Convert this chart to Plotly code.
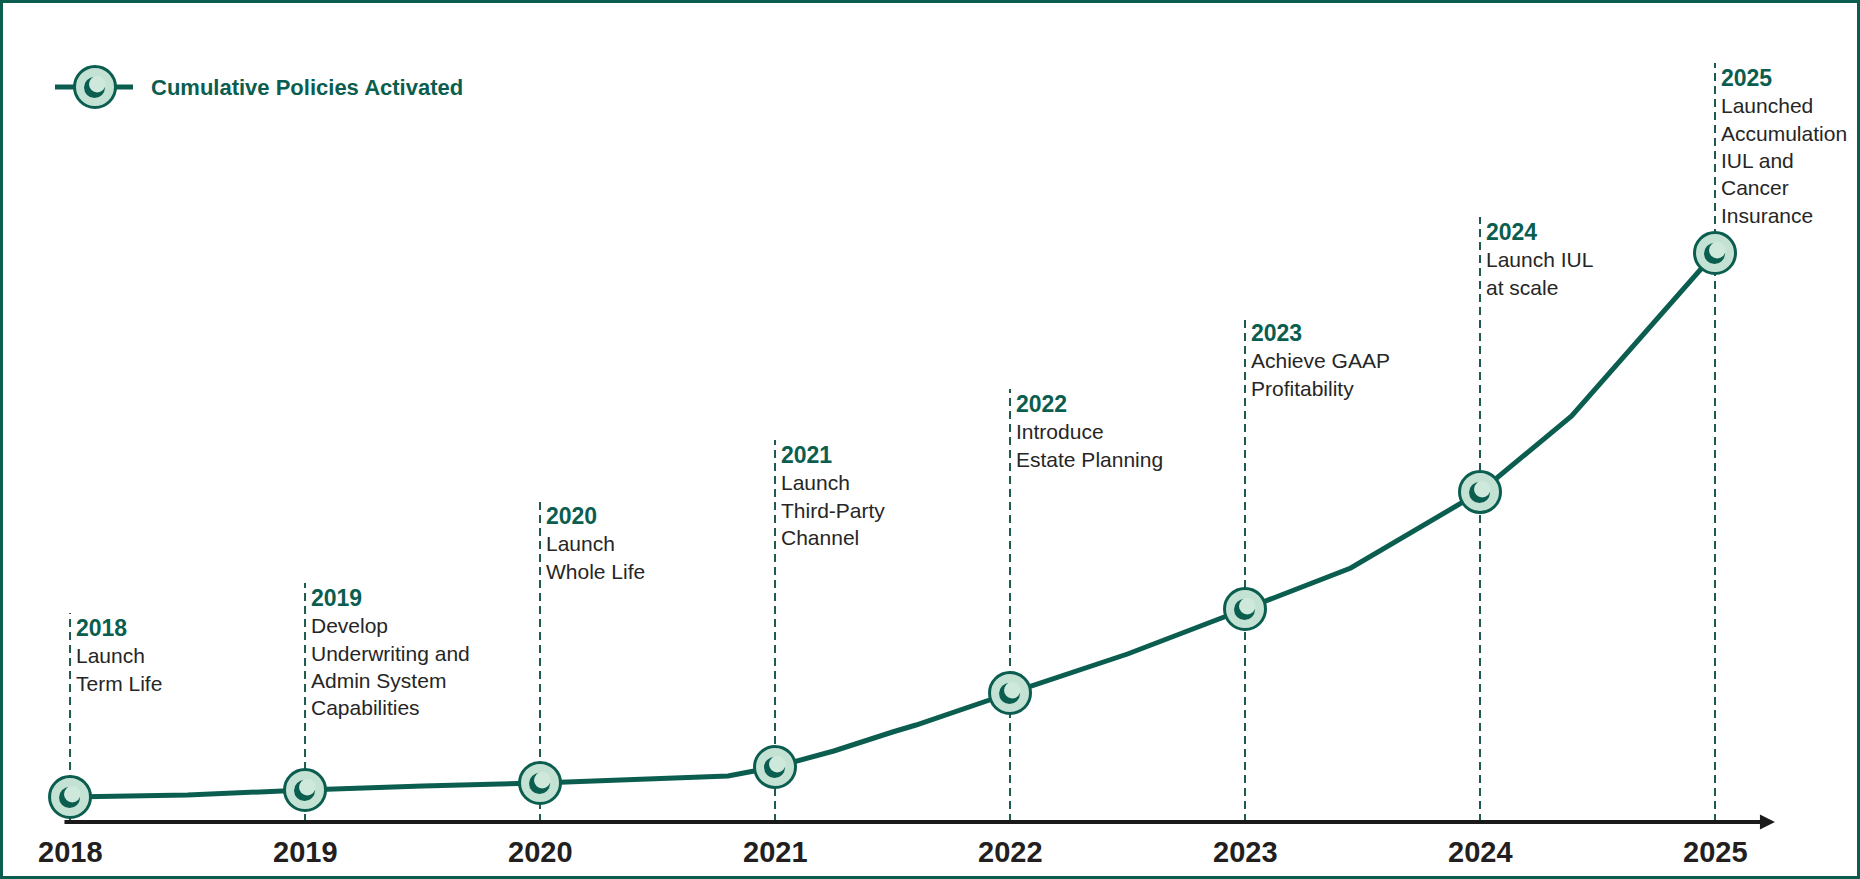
import plotly.graph_objects as go

# ---------------- data ----------------
years = [2018, 2019, 2020, 2021, 2022, 2023, 2024, 2025]
policies = [25, 32, 39, 55, 129, 213, 330, 569]  # cumulative policies (relative index)

path_years = [2018, 2018.5, 2019, 2019.25, 2019.5, 2020, 2020.5, 2020.8, 2021, 2021.25,
              2021.5, 2021.6, 2022, 2022.5, 2023, 2023.45, 2024, 2024.39, 2025]
path_policies = [25, 27, 32, 34.5, 36, 39, 43, 46, 55, 71,
                 90, 97, 129, 168, 213, 254, 330, 406, 569]

tick_labels = ["2018", "2019", "2020", "2021", "2022", "2023", "2024", "2025"]
milestone_years = ["2018", "2019", "2020", "2021", "2022", "2023", "2024", "2025"]
milestone_texts = [
    "Launch<br>Term Life",
    "Develop<br>Underwriting and<br>Admin System<br>Capabilities",
    "Launch<br>Whole Life",
    "Launch<br>Third-Party<br>Channel",
    "Introduce<br>Estate Planning",
    "Achieve GAAP<br>Profitability",
    "Launch IUL<br>at scale",
    "Launched<br>Accumulation<br>IUL and<br>Cancer<br>Insurance",
]
legend_label = "Cumulative Policies Activated"

# ---------------- layout / style ----------------
W, H = 1860, 879
GREEN = "#0b5e4f"
MINT = "#c4e2d4"
INNER = "#cfe8dc"
DASH = "#1f5a50"
TEXT = "#262626"
FONT = "Liberation Sans, Arial, Helvetica, sans-serif"

label_tops = [209, 239, 321, 382, 433, 504, 605, 759]  # top of dashed guide lines (y units)
x_range = [2017.702, 2025.617]
y_range = [-57, 822]
axis_start, axis_end = 2017.97, 2025.255

def px(xp):
    return xp / W

def py(yp):
    return 1 - yp / H

fig = go.Figure()

fig.add_trace(go.Scatter(
    x=path_years, y=path_policies, mode="lines",
    line=dict(color=GREEN, width=5), hoverinfo="skip", showlegend=False,
))
fig.add_trace(go.Scatter(
    x=years, y=policies, mode="markers", name=legend_label,
    marker=dict(size=41, color=MINT, line=dict(color=GREEN, width=3)),
    showlegend=False,
))

shapes = []
annotations = []

# dashed guides
for yr, top in zip(years, label_tops):
    shapes.append(dict(type="line", xref="x", yref="y", x0=yr, x1=yr, y0=0, y1=top,
                       line=dict(color=DASH, width=2, dash="8px,5px"), layer="below"))

# milestone labels
for yr, top, ylab, txt in zip(years, label_tops, milestone_years, milestone_texts):
    annotations.append(dict(
        x=yr, y=top, xref="x", yref="y", xanchor="left", yanchor="top",
        xshift=4, yshift=0, showarrow=False, align="left",
        text=f"<b><span style='color:{GREEN};font-size:23px'>{ylab}</span></b><br>{txt}",
        font=dict(family=FONT, size=21, color=TEXT),
    ))

# crescent emblem inside markers (pixel-sized shapes anchored at the data points)
def emblem(xref, yref, xa, ya):
    return [
        dict(type="circle", xref=xref, yref=yref, xsizemode="pixel", ysizemode="pixel",
             xanchor=xa, yanchor=ya, x0=-11, x1=10, y0=-11, y1=10,
             fillcolor=GREEN, line=dict(width=0), layer="above"),
        dict(type="circle", xref=xref, yref=yref, xsizemode="pixel", ysizemode="pixel",
             xanchor=xa, yanchor=ya, x0=-6, x1=10.5, y0=-5.5, y1=11,
             fillcolor=INNER, line=dict(width=0), layer="above"),
    ]

for yr, v in zip(years, policies):
    shapes.extend(emblem("x", "y", yr, v))

# year tick labels
for yr, lab in zip(years, tick_labels):
    annotations.append(dict(
        x=yr, y=0, xref="x", yref="y", yanchor="middle", yshift=-30, showarrow=False,
        text=f"<b>{lab}</b>", font=dict(family=FONT, size=29, color="#231f20"),
    ))

# axis arrow
annotations.append(dict(
    x=axis_end, y=0, ax=axis_start, ay=0, xref="x", yref="y", axref="x", ayref="y",
    showarrow=True, arrowhead=2, arrowsize=0.75, arrowwidth=4, arrowcolor="#1a1a1a", text="",
))

# legend (drawn)
shapes.append(dict(type="line", xref="paper", yref="paper", x0=px(55), x1=px(133), y0=py(87), y1=py(87),
                   line=dict(color=GREEN, width=5)))
shapes.append(dict(type="circle", xref="paper", yref="paper", x0=px(74.5), x1=px(115.5),
                   y0=py(107.5), y1=py(66.5), fillcolor=MINT, line=dict(color=GREEN, width=3)))
shapes.extend(emblem("paper", "paper", px(95), py(87)))
annotations.append(dict(x=px(149), y=py(87), xref="paper", yref="paper", xanchor="left", yanchor="middle",
                        showarrow=False, text=f"<b>{legend_label}</b>",
                        font=dict(family=FONT, size=22, color=GREEN)))

# frame
shapes.append(dict(type="rect", xref="paper", yref="paper", x0=px(1.5), x1=px(W - 1.5), y0=py(H - 1.5), y1=py(1.5),
                   line=dict(color=GREEN, width=3)))

fig.update_layout(
    width=W, height=H, margin=dict(l=0, r=0, t=0, b=0),
    paper_bgcolor="white", plot_bgcolor="white",
    xaxis=dict(range=x_range, visible=False, fixedrange=True),
    yaxis=dict(range=y_range, visible=False, fixedrange=True),
    shapes=shapes, annotations=annotations, showlegend=False,
)

fig.write_html("out.html", config={"displayModeBar": False},
               post_script="document.body.style.margin='0';document.body.style.overflow='hidden';")
